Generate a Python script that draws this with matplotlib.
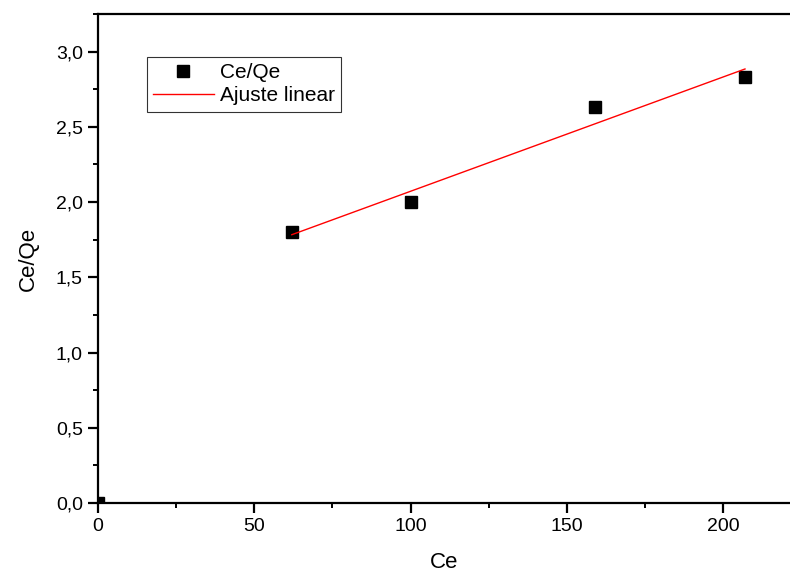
import numpy as np
import matplotlib
matplotlib.use('Agg')
import matplotlib.pyplot as plt
from matplotlib.ticker import FuncFormatter, MultipleLocator

plt.rcParams['font.family'] = ['Liberation Sans', 'DejaVu Sans']

# Langmuir linearised isotherm data
ce = [0, 62, 100, 159, 207]
ce_qe = [0.0, 1.80, 2.00, 2.63, 2.83]

# linear fit uses the measured points only (origin excluded)
fit_x = np.array(ce[1:])
fit_y = np.array(ce_qe[1:])
slope, intercept = np.polyfit(fit_x, fit_y, 1)
line_x = np.array([fit_x.min(), fit_x.max()])

fig = plt.figure(figsize=(7.9, 5.72), dpi=100)
ax = fig.add_axes([0.1241, 0.1206, 0.8759, 0.8549])

ax.plot(ce, ce_qe, 's', color='black', markersize=8, label='Ce/Qe')
ax.plot(line_x, slope * line_x + intercept, '-', color='red', lw=1, label='Ajuste linear')

ax.set_xlim(0, 221.4)
ax.set_ylim(0, 3.25)
ax.xaxis.set_major_locator(MultipleLocator(50))
ax.xaxis.set_minor_locator(MultipleLocator(25))
ax.yaxis.set_major_locator(MultipleLocator(0.5))
ax.yaxis.set_minor_locator(MultipleLocator(0.25))
ax.yaxis.set_major_formatter(FuncFormatter(lambda v, p: ('%.1f' % v).replace('.', ',')))

for s in ['left', 'bottom', 'top']:
    ax.spines[s].set_linewidth(1.6)
ax.spines['right'].set_visible(False)

ax.tick_params(axis='both', which='major', direction='out', length=7, width=1.6,
               labelsize=14, pad=4)
ax.tick_params(axis='both', which='minor', direction='out', length=3.5, width=1.4)

ax.set_xlabel('Ce', fontsize=16, labelpad=12)
ax.set_ylabel('Ce/Qe', fontsize=16, labelpad=12)

leg = ax.legend(loc='upper left', bbox_to_anchor=(0.0708, 0.912), borderaxespad=0,
                fontsize=15, fancybox=False, frameon=True, handlelength=2.9,
                handletextpad=0.3, borderpad=0.3, labelspacing=0.2)
leg.get_frame().set_edgecolor('black')
leg.get_frame().set_linewidth(0.8)

fig.savefig('out.png', dpi=100)
